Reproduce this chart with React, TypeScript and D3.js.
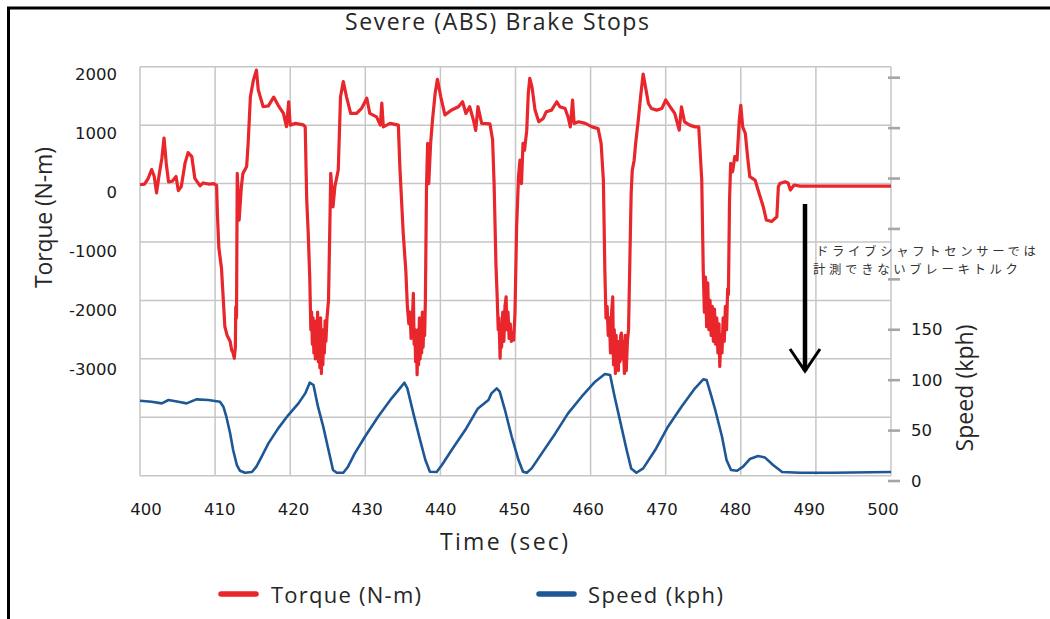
import * as d3 from "d3";

const W = 1050;
const H = 619;

const TITLE = "Severe (ABS) Brake Stops";
const X_TITLE = "Time (sec)";
const Y_TITLE = "Torque (N-m)";
const Y2_TITLE = "Speed (kph)";
const NOTE = ["ドライブシャフトセンサーでは", "計測できないブレーキトルク"];

const timeTicks = [400, 410, 420, 430, 440, 450, 460, 470, 480, 490, 500];
const torqueGrid = [2000, 1000, 0, -1000, -2000, -3000, -4000, -5000];
const torqueLabels = [2000, 1000, 0, -1000, -2000, -3000];
const speedTicks = [0, 50, 100, 150, 200, 250, 300, 350, 400];
const speedLabels = [0, 50, 100, 150];

// [time sec, torque N-m]
const torqueData: [number, number][] = [
  [400, -20], [400.6, -10], [401.1, 90], [401.55, 240], [401.9, 120], [402.2, -160],
  [402.55, 150], [402.9, 420], [403.2, 780], [403.5, 340], [403.8, 30], [404.3, 40],
  [404.8, 120], [405.1, -120], [405.5, -50], [406, 350], [406.4, 530], [406.9, 460],
  [407.3, 90], [408, -40], [408.4, 10], [409.2, -10], [409.8, 0], [410.2, -30],
  // stop 1
  [410.3, -500], [410.5, -1100], [410.85, -1450], [411.3, -2450], [411.6, -2600],
  [412, -2700], [412.2, -2850], [412.4, -2900], [412.55, -2990], [412.7, -2800],
  [412.75, -2110], [412.85, -2300], [412.95, 175], [413.2, -625], [413.5, -50],
  [413.7, 170], [414.2, 290], [414.4, 690], [414.7, 1485], [415.1, 1770], [415.5, 1942],
  [415.75, 1600], [416.4, 1315], [417.1, 1330], [417.8, 1480], [418.4, 1340],
  [419.1, 1200], [419.5, 975], [419.8, 1400], [420, 1000], [420.7, 1030],
  [421.75, 1005], [422, 970],
  // stop 2
  [422.2, -280], [422.4, -850], [422.6, -1600], [422.75, -2500], [422.85, -2200],
  [422.95, -2750], [423.05, -2300], [423.15, -2900], [423.25, -2400], [423.35, -3000],
  [423.45, -2350], [423.55, -2950], [423.65, -2200], [423.75, -3050], [423.85, -2400],
  [423.95, -3150], [424.05, -2300], [424.15, -3250], [424.25, -2600], [424.35, -3100],
  [424.45, -2500], [424.55, -2900], [424.65, -2350], [424.75, -2700], [424.9, -2300],
  [425.1, -2000], [425.3, -570], [425.4, 175], [425.7, -400], [425.95, -50],
  [426.4, 235], [426.7, 1485], [427.07, 1745], [427.5, 1485], [428.05, 1200],
  [428.85, 1200], [429.5, 1285], [430.2, 1460], [430.6, 1200], [431.5, 1140],
  [432, 1000], [432.2, 1375], [432.4, 970], [433.3, 1030], [434.4, 1000],
  // stop 3
  [434.6, 290], [435.05, -850], [435.4, -1500], [435.6, -2100], [435.8, -2400],
  [435.95, -2200], [436.1, -2650], [436.25, -2400], [436.4, -1880], [436.5, -2750],
  [436.6, -2500], [436.7, -3050], [436.8, -2600], [436.9, -3270], [437, -2500],
  [437.1, -3100], [437.2, -2300], [437.3, -3000], [437.4, -2500], [437.5, -2900],
  [437.6, -2200], [437.7, -2800], [437.8, -2300], [437.9, -2600], [438, -2000],
  [438.15, -60], [438.3, 690], [438.45, 0], [438.7, 690], [438.95, 1090],
  [439.3, 1545], [439.6, 1785], [440.05, 1485], [440.6, 1175], [441.5, 1260],
  [442.4, 1315], [442.95, 1400], [443.4, 1200], [443.9, 1315], [444.4, 1085],
  [444.7, 910], [445, 1315], [445.5, 1030], [446.6, 1020], [446.95, 750],
  // stop 4
  [447.15, 0], [447.4, -1400], [447.55, -1900], [447.7, -2500], [447.8, -2300],
  [447.95, -2990], [448.05, -2400], [448.15, -2800], [448.3, -2200], [448.45, -2700],
  [448.6, -2100], [448.75, -1940], [448.85, -2500], [449, -2200], [449.15, -2650],
  [449.3, -2400], [449.45, -2700], [449.6, -2550], [449.75, -2680], [449.93, -2220],
  [450.15, -740], [450.4, 117], [450.6, 400], [450.8, 0], [451, 690], [451.2, 570],
  [451.5, 914], [451.7, 1540], [451.9, 1800], [452.2, 1650], [452.6, 1257],
  [453.1, 1057], [453.7, 1115], [454.1, 1230], [454.8, 1257], [455.5, 1400],
  [455.9, 1314], [456.6, 1285], [457, 1140], [457.3, 970], [457.6, 1430],
  [457.8, 1030], [458.4, 1057], [459.3, 1030], [460.2, 970], [461, 940],
  // stop 5
  [461.4, 690], [461.7, 60], [461.9, -1500], [462.05, -2300], [462.2, -2100],
  [462.35, -2600], [462.5, -2300], [462.65, -2900], [462.8, -2200], [462.95, -1940],
  [463.05, -3100], [463.15, -2500], [463.3, -3250], [463.4, -2600], [463.5, -3100],
  [463.6, -2700], [463.7, -3200], [463.8, -2700], [463.9, -3050], [464, -2600],
  [464.1, -2560], [464.2, -3000], [464.35, -2700], [464.5, -3250], [464.6, -2600],
  [464.75, -3200], [464.9, -2700], [465.05, -2500], [465.2, -1500], [465.4, -170],
  [465.55, 230], [465.8, 400], [466, 690], [466.35, 1090], [466.7, 1540],
  [467, 1875], [467.3, 1660], [467.7, 1370], [468.1, 1285], [468.8, 1257],
  [469.5, 1285], [470, 1430], [470.6, 1314], [471.2, 1200], [471.8, 914],
  [472.1, 1314], [472.5, 1057], [473.2, 1000], [473.9, 970], [474.4, 970],
  // stop 6
  [474.8, 60], [475, -1480], [475.15, -2200], [475.3, -1600], [475.45, -2450],
  [475.6, -1700], [475.75, -2500], [475.9, -2000], [476.05, -2600], [476.2, -2100],
  [476.35, -2700], [476.5, -2150], [476.65, -2750], [476.8, -2300], [476.95, -2900],
  [477.1, -2400], [477.2, -3130], [477.35, -2600], [477.5, -2900], [477.65, -2300],
  [477.8, -2700], [477.95, -2100], [478.1, -2500], [478.25, -1800], [478.35, -1900],
  [478.5, -280], [478.65, 345], [478.9, 200], [479.2, 460], [479.5, 400],
  [479.8, 1090], [480, 1340], [480.25, 970], [480.6, 860], [480.9, 460],
  [481.2, 117], [481.9, 60], [482.3, -110], [483, -400], [483.4, -625],
  [484.1, -650], [484.8, -570], [485, -55], [485.2, 0], [485.9, 30], [486.3, 10],
  [486.6, -110], [487.1, -25], [487.9, -45], [500, -45],
];

// [time sec, speed kph]
const speedData: [number, number][] = [
  [400, 79.6], [401.55, 78.6], [402.9, 77], [403.8, 80.3], [405.1, 78.6], [406.2, 77],
  [407.5, 81], [409.1, 80.3], [410.65, 78.6], [411.1, 73.7], [411.5, 63.8], [412, 47.3],
  [412.4, 30.7], [412.9, 15.8], [413.3, 10.2], [414, 8.2], [414.9, 8.9], [415.5, 14.2],
  [416.2, 24.1], [417.1, 37.3], [418.4, 52.2], [419.75, 65.4], [421.1, 77], [422, 86.9],
  [422.6, 97.5], [423.1, 95.2], [423.7, 73.7], [424.4, 53.9], [425.1, 30.7], [425.7, 10.9],
  [426.2, 8.2], [427.07, 8.2], [427.7, 14.2], [428.6, 27.4], [429.95, 43.9], [431.7, 63.8],
  [433.5, 82], [434.6, 91.9], [435.2, 97.5], [435.6, 91.9], [436.4, 67.1], [437.3, 40.6],
  [438, 20.8], [438.6, 9.2], [439.5, 8.9], [440.2, 15.8], [441.5, 30.7], [443.3, 50.5],
  [445, 72], [446.4, 80.3], [446.8, 86.9], [447.5, 91.9], [447.9, 88.6], [448.6, 70.4],
  [449.5, 43.9], [450.4, 20.8], [451, 9.2], [451.5, 8.2], [452.15, 12.5], [453.5, 27.4],
  [455.3, 47.2], [457, 67.1], [458.8, 83.6], [460.6, 98.5], [461.9, 106.1], [462.6, 105.1],
  [463.2, 83.6], [464.1, 53.9], [464.8, 30.7], [465.4, 12.5], [466.1, 8.2], [467, 12.5],
  [468.6, 30.7], [470.3, 53.9], [472.1, 73.7], [473.9, 91.9], [475, 100.8], [475.45, 100.1],
  [476.1, 83.6], [476.6, 70.4], [477.5, 43.9], [478.1, 20.8], [478.7, 10.9], [479.5, 10.2],
  [480.3, 14.2], [481.2, 21.8], [482.3, 24.8], [483.2, 23.4], [484.3, 15.8], [485.5, 8.9],
  [487.9, 8.2], [492.3, 8.2], [500, 8.9],
];

const RED = "#e8262b";
const BLUE = "#1d5796";
const GRID = "#c6c6c6";
const TEXT = "#262626";
const SANS = "'Open Sans', sans-serif";

export default function App() {
  const plot = { left: 140, right: 891, top: 66.7, bottom: 475.7 };

  const x = d3.scaleLinear().domain([400, 500]).range([plot.left, plot.right]);
  const yT = d3.scaleLinear().domain([-5000, 2000]).range([plot.bottom, plot.top]);
  const yS = d3.scaleLinear().domain([0, 400]).range([481, 77.7]);
  // tick label placement (labels sit a little off the grid, as in the source)
  const xLab = d3.scaleLinear().domain([400, 500]).range([146, 883]);
  const yLab = d3.scaleLinear().domain([-3000, 2000]).range([369, 74]);

  const torqueLine = d3
    .line<[number, number]>()
    .x((d) => x(d[0]))
    .y((d) => yT(d[1]));
  const speedLine = d3
    .line<[number, number]>()
    .x((d) => x(d[0]))
    .y((d) => yS(d[1]));

  const arrowX = 805;

  return (
    <svg
      width={W}
      height={H}
      style={{ position: "absolute", left: 0, top: 0, background: "#fff" }}
    >
      <rect width={W} height={H} fill="#fff" />
      {/* frame */}
      <line x1={8.5} y1={7} x2={8.5} y2={H} stroke="#000" strokeWidth={3} />
      <line x1={7} y1={8} x2={W} y2={8} stroke="#000" strokeWidth={3} />

      <text x={497} y={30} textAnchor="middle" fontFamily={SANS} fontSize={23}
        fill={TEXT} textLength={304} lengthAdjust="spacing">
        {TITLE}
      </text>

      {/* grid */}
      <g stroke={GRID} strokeWidth={1.5}>
        {timeTicks.map((t) => (
          <line key={t} x1={x(t)} x2={x(t)} y1={plot.top} y2={plot.bottom} />
        ))}
        {torqueGrid.map((v) => (
          <line key={v} x1={plot.left} x2={plot.right} y1={yT(v)} y2={yT(v)} />
        ))}
      </g>

      {/* right axis ticks */}
      <g stroke="#a6a6a6" strokeWidth={2.6}>
        {speedTicks.map((v) => (
          <line key={v} x1={888} x2={900} y1={yS(v)} y2={yS(v)} />
        ))}
      </g>

      <path d={torqueLine(torqueData) ?? ""} fill="none" stroke={RED}
        strokeWidth={3.2} strokeLinejoin="round" />
      <path d={speedLine(speedData) ?? ""} fill="none" stroke={BLUE}
        strokeWidth={2.6} strokeLinejoin="round" />

      {/* tick labels */}
      <g fontFamily="'DejaVu Sans', sans-serif" fontSize={16.5} fill="#1a1a1a">
        {torqueLabels.map((v) => (
          <text key={v} x={117} y={yLab(v)} textAnchor="end" dominantBaseline="central">
            {v}
          </text>
        ))}
        {timeTicks.map((t) => (
          <text key={t} x={xLab(t)} y={515} textAnchor="middle">
            {t}
          </text>
        ))}
        {speedLabels.map((v) => (
          <text key={v} x={911} y={yS(v)} dominantBaseline="central">
            {v}
          </text>
        ))}
      </g>

      {/* axis titles */}
      <text x={504} y={550} textAnchor="middle" fontFamily={SANS} fontSize={23}
        fill={TEXT} textLength={128} lengthAdjust="spacing">
        {X_TITLE}
      </text>
      <text transform="translate(52,217.5) rotate(-90)" textAnchor="middle"
        fontFamily={SANS} fontSize={23} fill={TEXT} textLength={141} lengthAdjust="spacing">
        {Y_TITLE}
      </text>
      <text transform="translate(973,388) rotate(-90)" textAnchor="middle"
        fontFamily={SANS} fontSize={23} fill={TEXT} textLength={127} lengthAdjust="spacing">
        {Y2_TITLE}
      </text>

      {/* annotation */}
      <line x1={arrowX} x2={arrowX} y1={204} y2={371} stroke="#000" strokeWidth={4.5} />
      <polyline points={`790,349 ${arrowX},371 820,349`} fill="none" stroke="#000"
        strokeWidth={3} />
      <g fontFamily="'Noto Sans CJK JP', sans-serif" fontSize={12.4} fill="#333">
        <text x={816} y={256} textLength={220} lengthAdjust="spacing">{NOTE[0]}</text>
        <text x={813} y={274} textLength={205} lengthAdjust="spacing">{NOTE[1]}</text>
      </g>

      {/* legend */}
      <line x1={221} x2={256} y1={594} y2={594} stroke={RED} strokeWidth={5.5}
        strokeLinecap="round" />
      <text x={271} y={603} fontFamily={SANS} fontSize={22} fill={TEXT}
        textLength={150} lengthAdjust="spacing">
        Torque (N-m)
      </text>
      <line x1={539} x2={574} y1={594} y2={594} stroke={BLUE} strokeWidth={5.5}
        strokeLinecap="round" />
      <text x={588} y={603} fontFamily={SANS} fontSize={22} fill={TEXT}
        textLength={135} lengthAdjust="spacing">
        Speed (kph)
      </text>
    </svg>
  );
}
